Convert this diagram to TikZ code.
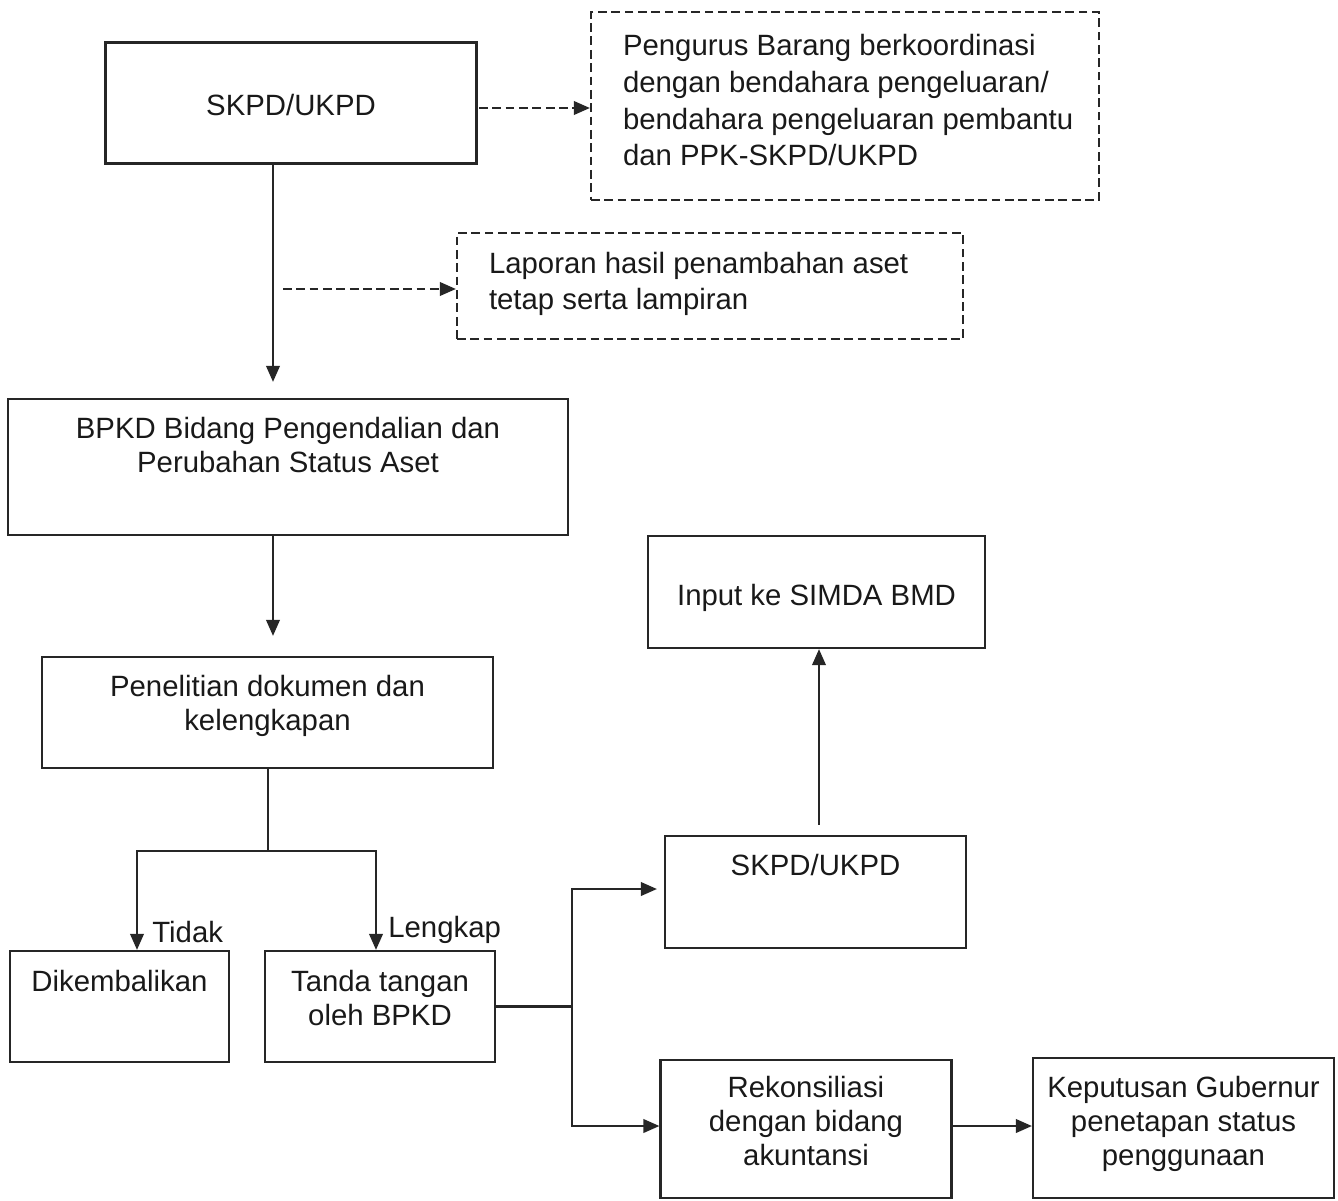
\documentclass[tikz,border=0pt]{standalone}
\usepackage{fontspec}
\setmainfont{Liberation Sans}
\usetikzlibrary{arrows.meta}
\newdimen\px \px=0.02cm
\tikzstyle{block} = [rectangle, draw=black!85, line width=1.25pt, inner sep=0pt, text=black!90]
\tikzstyle{dashblock} = [block, dash pattern=on 5pt off 2.6pt]
\tikzstyle{link} = [draw=black!85, line width=1.25pt]
\tikzstyle{conn} = [link, -{Triangle[length=0.32cm,width=0.27cm]}]
\tikzstyle{dconn} = [conn, dash pattern=on 5pt off 2.6pt]
\tikzstyle{tag} = [inner sep=0pt, anchor=base west, text=black!90]

\begin{document}
\begin{tikzpicture}[x=0.02cm, y=-0.02cm, font=\fontsize{16.7}{19.35}\selectfont]
 \useasboundingbox (0,0) rectangle (1338,1200);

 \node (skpd) [block] at (291,103) {\parbox[c][121\px][t]{371\px}{\centering\vspace*{52\px}SKPD/UKPD}};
 \node (pengurus) [dashblock] at (845,106) {\parbox[c][188\px][t]{508\px}{\raggedright\leftskip=32\px\baselineskip=21pt\vspace*{22\px}Pengurus Barang berkoordinasi\\dengan bendahara pengeluaran/\\bendahara pengeluaran pembantu\\dan PPK-SKPD/UKPD}};
 \node (laporan) [dashblock] at (710,286) {\parbox[c][106\px][t]{506\px}{\raggedright\leftskip=32\px\baselineskip=20.5pt\vspace*{19\px}Laporan hasil penambahan aset\\tetap serta lampiran}};
 \node (bpkd) [block] at (288,467) {\parbox[c][136\px][t]{560\px}{\centering\vspace*{18\px}BPKD Bidang Pengendalian dan\\Perubahan Status Aset}};
 \node (teliti) [block] at (267.5,712.5) {\parbox[c][111\px][t]{451\px}{\centering\vspace*{18\px}Penelitian dokumen dan\\kelengkapan}};
 \node (kembali) [block] at (119.5,1006.5) {\parbox[c][111\px][t]{219\px}{\centering\vspace*{19\px}Dikembalikan}};
 \node (ttd) [block] at (380,1006.5) {\parbox[c][111\px][t]{230\px}{\centering\vspace*{19\px}Tanda tangan\\oleh BPKD}};
 \node (simda) [block] at (816.5,592) {\parbox[c][112\px][t]{337\px}{\centering\vspace*{48\px}Input ke SIMDA BMD}};
 \node (skpdb) [block] at (815.5,892) {\parbox[c][112\px][t]{301\px}{\centering\vspace*{18\px}SKPD/UKPD}};
 \node (rekon) [block] at (806,1129) {\parbox[c][138\px][t]{291\px}{\centering\vspace*{16\px}Rekonsiliasi\\dengan bidang\\akuntansi}};
 \node (kepgub) [block] at (1183.5,1128) {\parbox[c][140\px][t]{301\px}{\centering\vspace*{18\px}Keputusan Gubernur\\penetapan status\\penggunaan}};

 \node (tidak) [tag] at (152,942) {Tidak};
 \node (lengkap) [tag] at (388,937) {Lengkap};

 \coordinate (trunk) at (273,0);
 \coordinate (skpdout) at (479,108);
 \coordinate (lapout) at (283,289);
 \coordinate (bagi) at (268,851);
 \coordinate (cabang) at (572,1007);

 % dashed side notes
 \draw[dconn] (skpdout) -- (skpdout -| pengurus.west);
 \draw[dconn] (lapout) -- (lapout -| laporan.west);

 % main line
 \draw[conn, shorten >=0.32cm] (skpd.south -| trunk) -- (bpkd.north -| trunk);
 \draw[conn, shorten >=0.4cm] (bpkd.south -| trunk) -- (teliti.north -| trunk);
 \draw[link] (teliti.south -| bagi) -- (bagi);
 \draw[conn] (bagi) -| ([xshift=0.35cm]kembali.north);
 \draw[conn] (bagi) -| ([xshift=-0.08cm]ttd.north);

 \draw[link] (ttd.east) -- (ttd.east -| cabang);
 \draw[conn, shorten >=0.14cm] (ttd.east -| cabang) |- ([yshift=0.06cm]skpdb.west);
 \draw[conn] (ttd.east -| cabang) |- ([yshift=0.06cm]rekon.west);
 \draw[conn, shorten <=0.2cm] ([xshift=0.07cm]skpdb.north) -- ([xshift=0.07cm]skpdb.north |- simda.south);
 \draw[conn] ([yshift=0.06cm]rekon.east) -- ([yshift=0.06cm]rekon.east -| kepgub.west);
\end{tikzpicture}
\end{document}
